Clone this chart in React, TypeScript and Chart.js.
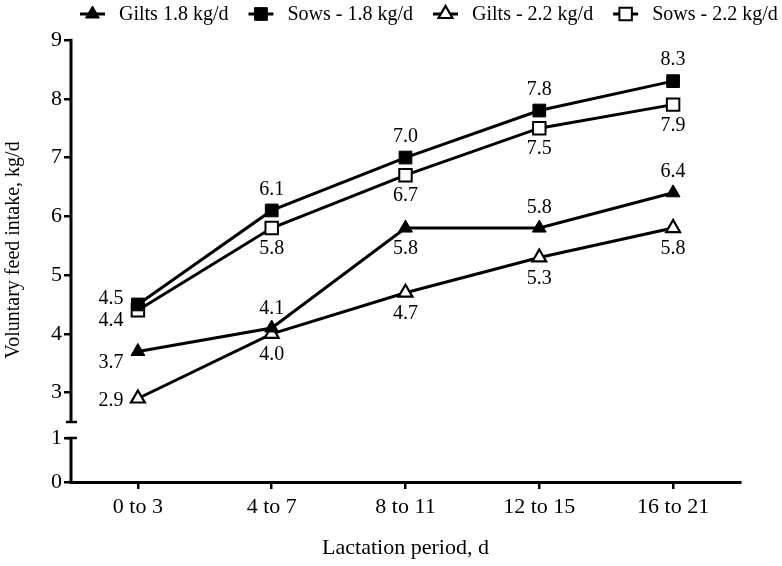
import React, { useEffect, useRef } from 'react';
import { Chart, registerables } from 'chart.js';

Chart.register(...registerables);

const categories = ['0 to 3', '4 to 7', '8 to 11', '12 to 15', '16 to 21'];
const giltsLow = [3.7, 4.1, 5.8, 5.8, 6.4];
const sowsLow = [4.5, 6.1, 7.0, 7.8, 8.3];
const giltsHigh = [2.9, 4.0, 4.7, 5.3, 5.8];
const sowsHigh = [4.4, 5.8, 6.7, 7.5, 7.9];
const seriesNames = ['Gilts 1.8 kg/d', 'Sows - 1.8 kg/d', 'Gilts - 2.2 kg/d', 'Sows - 2.2 kg/d'];
const upperTicks = [3, 4, 5, 6, 7, 8, 9];
const lowerTicks = [0, 1];
const xTitle = 'Lactation period, d';
const yTitle = 'Voluntary feed intake, kg/d';

// label placement offsets [dx, dy] per series/point (style only)
const labelOffsets: number[][][] = [
  [[-27, 11], [0, -19], [0, 21], [0, -20], [0, -21]],
  [[-27, -6], [0, -21], [0, -21], [0, -21], [0, -21]],
  [[-27, 2], [0, 21], [0, 21], [0, 21], [0, 21]],
  [[-27, 10], [0, 21], [0, 21], [0, 21], [0, 21]],
];

const SERIF = "'Liberation Serif', 'Times New Roman', serif";

type Marker = { shape: 'triangle' | 'rect'; filled: boolean; radius: number; border: number };
const markers: Marker[] = [
  { shape: 'triangle', filled: true, radius: 8, border: 1 },
  { shape: 'rect', filled: true, radius: 9, border: 1 },
  { shape: 'triangle', filled: false, radius: 8, border: 2.2 },
  { shape: 'rect', filled: false, radius: 8.8, border: 2 },
];

function drawMarker(ctx: CanvasRenderingContext2D, m: Marker, x: number, y: number) {
  ctx.beginPath();
  if (m.shape === 'triangle') {
    let rad = 0;
    ctx.moveTo(x + Math.sin(rad) * m.radius, y - Math.cos(rad) * m.radius);
    rad += (2 * Math.PI) / 3;
    ctx.lineTo(x + Math.sin(rad) * m.radius, y - Math.cos(rad) * m.radius);
    rad += (2 * Math.PI) / 3;
    ctx.lineTo(x + Math.sin(rad) * m.radius, y - Math.cos(rad) * m.radius);
    ctx.closePath();
  } else {
    const s = Math.SQRT1_2 * m.radius;
    ctx.rect(x - s, y - s, 2 * s, 2 * s);
  }
  ctx.fillStyle = m.filled ? '#000' : '#fff';
  ctx.fill();
  ctx.lineWidth = m.border;
  ctx.strokeStyle = '#000';
  ctx.stroke();
}

const overlayPlugin = {
  id: 'overlay',
  afterDatasetsDraw(chart: any) {
    const ctx: CanvasRenderingContext2D = chart.ctx;
    ctx.save();
    ctx.font = `20px ${SERIF}`;
    ctx.fillStyle = '#000';
    ctx.textAlign = 'center';
    ctx.textBaseline = 'middle';
    chart.data.datasets.forEach((ds: any, i: number) => {
      const meta = chart.getDatasetMeta(i);
      meta.data.forEach((pt: any, j: number) => {
        const off = labelOffsets[i][j];
        ctx.fillText(Number(ds.data[j]).toFixed(1), pt.x + off[0], pt.y + off[1]);
      });
    });
    ctx.restore();
  },
  afterDraw(chart: any) {
    const ctx: CanvasRenderingContext2D = chart.ctx;
    const y = chart.scales.y;
    const y2 = chart.scales.y2;
    const ax = chart.chartArea.left;
    ctx.save();
    ctx.strokeStyle = '#000';
    ctx.lineCap = 'butt';
    // upper axis segment
    ctx.lineWidth = 3;
    ctx.beginPath();
    ctx.moveTo(ax, y.getPixelForValue(upperTicks[upperTicks.length - 1]) - 1.25);
    ctx.lineTo(ax, y.bottom);
    ctx.stroke();
    // lower axis segment
    const lowTop = y2.getPixelForValue(lowerTicks[lowerTicks.length - 1]);
    ctx.beginPath();
    ctx.moveTo(ax, lowTop);
    ctx.lineTo(ax, y2.getPixelForValue(0) + 1.5);
    ctx.stroke();
    // break caps
    ctx.lineWidth = 2.5;
    ctx.beginPath();
    ctx.moveTo(ax - 5, y.bottom);
    ctx.lineTo(ax + 6, y.bottom);
    ctx.moveTo(ax - 5, lowTop);
    ctx.lineTo(ax + 6, lowTop);
    ctx.stroke();

    // titles
    ctx.fillStyle = '#000';
    ctx.font = `22px ${SERIF}`;
    ctx.textAlign = 'center';
    ctx.textBaseline = 'middle';
    ctx.fillText(xTitle, (chart.chartArea.left + chart.chartArea.right) / 2, 548);
    ctx.save();
    ctx.font = `20px ${SERIF}`;
    ctx.translate(14, 250);
    ctx.rotate(-Math.PI / 2);
    ctx.fillText(yTitle, 0, 0);
    ctx.restore();

    // legend
    ctx.font = `20px ${SERIF}`;
    ctx.textAlign = 'left';
    let cursor = 80;
    const ly = 14;
    seriesNames.forEach((name, i) => {
      ctx.lineWidth = 3;
      ctx.strokeStyle = '#000';
      ctx.beginPath();
      ctx.moveTo(cursor, ly);
      ctx.lineTo(cursor + 25, ly);
      ctx.stroke();
      drawMarker(ctx, markers[i], cursor + 12.5, ly);
      const tx = cursor + 39;
      ctx.fillStyle = '#000';
      ctx.fillText(name, tx, ly + 1);
      cursor = tx + ctx.measureText(name).width + 20;
    });
    ctx.restore();
  },
};

export default function App() {
  const ref = useRef<HTMLCanvasElement>(null);
  useEffect(() => {
    if (!ref.current) return;
    const series = [giltsLow, sowsLow, giltsHigh, sowsHigh];
    const tickFont = { family: SERIF, size: 22 };
    const chart = new Chart(ref.current, {
      type: 'line',
      data: {
        labels: categories,
        datasets: series.map((d, i) => ({
          label: seriesNames[i],
          data: d,
          yAxisID: 'y',
          borderColor: '#000',
          borderWidth: 3,
          pointStyle: markers[i].shape,
          pointRadius: markers[i].radius,
          pointHoverRadius: markers[i].radius,
          pointBackgroundColor: markers[i].filled ? '#000' : '#fff',
          pointBorderColor: '#000',
          pointBorderWidth: markers[i].border,
          tension: 0,
          fill: false,
        })),
      },
      options: {
        responsive: false,
        animation: false,
        events: [],
        layout: { padding: { left: 0, top: 40, right: 42, bottom: 0 } },
        plugins: { legend: { display: false }, tooltip: { enabled: false } },
        scales: {
          x: {
            type: 'category',
            offset: true,
            grid: { display: true, drawOnChartArea: false, tickLength: 7, lineWidth: 2.5, color: '#000' },
            border: { display: true, width: 3, color: '#000' },
            ticks: { font: tickFont, color: '#000', padding: 5 },
            afterFit: (s: any) => { s.height = 84; },
          },
          y2: {
            type: 'linear',
            position: 'left',
            stack: 'yb',
            stackWeight: 60,
            min: 0,
            max: 1.364,
            grid: { display: true, drawOnChartArea: false, tickLength: 7, lineWidth: 2.5, color: '#000' },
            border: { display: false },
            ticks: { font: tickFont, color: '#000', padding: 2 },
            afterBuildTicks: (s: any) => { s.ticks = lowerTicks.map((v) => ({ value: v })); },
            afterFit: (s: any) => { s.width = 71; },
          },
          y: {
            type: 'linear',
            position: 'left',
            stack: 'yb',
            stackWeight: 382,
            min: 2.5,
            max: 9,
            grid: { display: true, drawOnChartArea: false, tickLength: 7, lineWidth: 2.5, color: '#000' },
            border: { display: false },
            ticks: { font: tickFont, color: '#000', padding: 2 },
            afterBuildTicks: (s: any) => { s.ticks = upperTicks.map((v) => ({ value: v })); },
            afterFit: (s: any) => { s.width = 71; },
          },
        },
      },
      plugins: [overlayPlugin],
    } as any);
    return () => chart.destroy();
  }, []);
  return (
    <div style={{ position: 'absolute', left: 0, top: 0, background: '#fff' }}>
      <canvas ref={ref} width={782} height={566} />
    </div>
  );
}
